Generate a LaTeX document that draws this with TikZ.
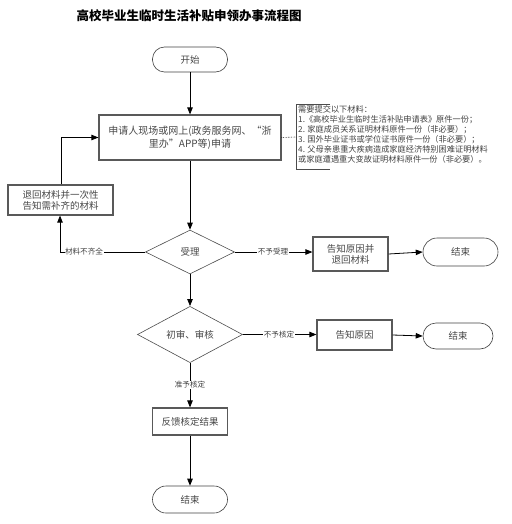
\documentclass[tikz,border=0pt]{standalone}
\usepackage{fontspec}
\setmainfont{Noto Sans CJK SC}
\usetikzlibrary{arrows.meta,shapes.geometric}
\tikzset{
  every node/.style={font=\fontsize{9.5}{11}\selectfont, text=black!72},
  boxnode/.style={draw=black!65, line width=1.2pt, rectangle, inner sep=1pt, align=center},
  pill/.style={draw=black!75, line width=0.6pt, rectangle, rounded corners=12pt, inner sep=1pt, minimum width=75pt},
  dia/.style={draw=black!70, line width=0.6pt, diamond, inner sep=0pt},
  conn/.style={draw=black, line width=0.8pt, -{Triangle[length=7pt,width=5.5pt]}},
  plain/.style={draw=black, line width=0.8pt},
  lab/.style={font=\fontsize{7.6}{8}\selectfont, fill=white, inner sep=0.5pt, text=black!75}
}
\begin{document}
\begin{tikzpicture}[x=1pt,y=-1pt]
\useasboundingbox (0,0) rectangle (511,524);
\node (title) at (189,16) {\fontsize{12.5}{14}\selectfont\bfseries\color{black}高校毕业生临时生活补贴申领办事流程图};
\node[pill, minimum height=25pt] (start) at (190,59.5) {开始};
\node[boxnode, minimum width=182pt, minimum height=45pt, font=\fontsize{10}{13}\selectfont] (apply) at (190,137.5) {申请人现场或网上(政务服务网、“浙\\里办”APP等)申请};
\coordinate (nb) at (296,137);
\node[anchor=north west, align=left, inner sep=0pt, font=\fontsize{8.2}{10}\selectfont, text=black!75] (note) at (298,105.5) {需要提交以下材料：\\1.《高校毕业生临时生活补贴申请表》原件一份；\\2. 家庭成员关系证明材料原件一份（非必要）；\\3. 国外毕业证书或学位证书原件一份（非必要）；\\4. 父母亲患重大疾病造成家庭经济特别困难证明材料\\或家庭遭遇重大变故证明材料原件一份（非必要）。};
\draw[black!70, line width=0.9pt] (330,104) -- (296,104) -- (296,169) -- (330,169);
\draw[black, line width=0.6pt, densely dotted] (apply.east) -- (nb);
\node[boxnode, minimum width=105pt, minimum height=30pt] (ret) at (60.5,200) {退回材料并一次性\\告知需补齐的材料};
\node[dia, minimum width=89pt, minimum height=44pt] (d1) at (190,252) {受理};
\node[boxnode, minimum width=75pt, minimum height=34pt] (r1) at (350.5,254) {告知原因并\\退回材料};
\node[pill, minimum height=28pt, rounded corners=14pt] (e1) at (460.5,252) {结束};
\node[dia, minimum width=105pt, minimum height=55pt] (d2) at (190,334.5) {初审、审核};
\node[boxnode, minimum width=75pt, minimum height=30pt] (r2) at (354.5,335) {告知原因};
\node[pill, minimum width=70pt, minimum height=26pt, rounded corners=13pt] (e2) at (458,336) {结束};
\node[boxnode, minimum width=75pt, minimum height=27pt] (fb) at (190,421.5) {反馈核定结果};
\node[pill, minimum height=27pt, rounded corners=13.5pt] (e3) at (190,499.5) {结束};
\coordinate (c1) at (60,252);
\coordinate (c2) at (61,137.5);
% connectors
\draw[conn] (start) -- (apply);
\draw[conn] (apply) -- (d1);
\draw[conn] (d1) -- (d2);
\draw[conn] (d1.west) -- (c1) -- (ret.south -| c1);
\node[lab] at (84,252) {材料不齐全};
\draw[conn] (ret.north -| c2) -- (c2) -- (apply.west);
\draw[conn] (d1.east) -- (r1.west |- d1.east);
\node[lab] at (273,252) {不予受理};
\draw[conn] (r1.east) -- (e1.west);
\draw[conn] (d2.east) -- (r2.west |- d2.east);
\node[lab] at (279,334.5) {不予核定};
\draw[conn] (r2.east) -- (e2.west);
\draw[conn] (d2.south) -- (fb.north);
\node[lab] at (190,385) {准予核定};
\draw[conn] (fb) -- (e3);
\end{tikzpicture}
\end{document}
